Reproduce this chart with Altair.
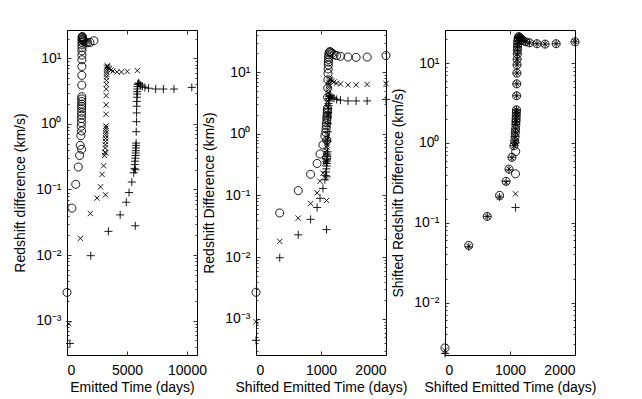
import altair as alt
import pandas as pd

# ---- data ----
# shifted emitted time (days), shared sampling of the three runs
T_SHIFT = [0, 365, 650, 840, 940, 985, 1030, 1060, 1085, 1088, 1072, 1078, 1082, 1086, 1090,
           1092, 1094, 1096, 1098, 1100, 1102, 1104, 1106, 1108, 1110, 1112, 1114, 1116, 1118,
           1120, 1125, 1135, 1150, 1170, 1200, 1240, 1300, 1415, 1540, 1710, 2000]

# emitted time (days) of each run
TE_O = [0, 409, 728, 941, 1053, 1103, 1154, 1187, 1215, 1219, 1201, 1207, 1212, 1216, 1221,
        1223, 1225, 1228, 1230, 1232, 1234, 1236, 1239, 1241, 1243, 1245, 1248, 1250, 1252,
        1254, 1260, 1271, 1288, 1310, 1344, 1389, 1456, 1585, 1725, 1915, 2240]
TE_X = [150, 1120, 1945, 2500, 2790, 2920, 3050, 3135, 3210, 3215, 3170, 3185, 3200, 3210, 3220,
        3225, 3230, 3240, 3245, 3250, 3255, 3260, 3265, 3270, 3280, 3285, 3290, 3295, 3300,
        3310, 3320, 3350, 3395, 3455, 3540, 3660, 3830, 4165, 4530, 5020, 5860]
TE_P = [250, 1980, 3450, 4430, 4940, 5170, 5400, 5560, 5690, 5700, 5620, 5650, 5670, 5690, 5710,
        5720, 5730, 5740, 5750, 5760, 5770, 5790, 5800, 5810, 5820, 5830, 5840, 5850, 5860,
        5870, 5890, 5950, 6020, 6130, 6280, 6490, 6800, 7390, 8030, 8910, 10400]

# redshift difference (km/s)
Z_O = [0.0027, 0.052, 0.12, 0.22, 0.33, 0.47, 0.66, 0.92, 0.41, 0.78, 1.05, 1.2, 1.35, 1.5, 1.7,
       1.85, 2.0, 2.2, 2.4, 2.6, 3.9, 5.5, 7.5, 9.5, 11.2, 13, 14.5, 16, 17.5,
       19, 20.5, 21.5, 21, 20, 19.2, 18.5, 18, 17.5, 17.3, 17.5, 18.5]
Z_X = [0.0009, 0.018, 0.043, 0.074, 0.11, 0.17, 0.23, 0.33, 0.083, 0.36, 0.37, 0.43, 0.48, 0.54, 0.6,
       0.66, 0.72, 0.79, 0.86, 0.93, 1.4, 1.95, 2.7, 3.4, 4.0, 4.6, 5.2, 5.7, 6.2,
       6.8, 7.3, 7.7, 7.5, 7.1, 6.9, 6.6, 6.4, 6.2, 6.2, 6.3, 6.5]
Z_P = [0.00045, 0.0098, 0.023, 0.041, 0.064, 0.09, 0.13, 0.18, 0.028, 0.2, 0.21, 0.24, 0.27, 0.3, 0.33,
       0.36, 0.39, 0.43, 0.47, 0.51, 0.76, 1.08, 1.47, 1.86, 2.2, 2.55, 2.85, 3.1, 3.4,
       3.7, 4.0, 4.2, 4.1, 3.9, 3.75, 3.6, 3.5, 3.4, 3.4, 3.4, 3.6]

# shifted redshift difference (km/s)
ZS_X = [0.0025, 0.051, 0.12, 0.21, 0.32, 0.47, 0.65, 0.92, 0.23, 1.0, 1.05, 1.2, 1.35, 1.5, 1.7,
        1.85, 2.0, 2.2, 2.4, 2.6, 3.9, 5.5, 7.5, 9.5, 11.2, 13, 14.5, 16, 17.5,
        19, 20.5, 21.5, 21, 20, 19.2, 18.5, 18, 17.5, 17.3, 17.5, 18.5]
ZS_P = [0.0023, 0.050, 0.12, 0.21, 0.33, 0.46, 0.66, 0.92, 0.155, 1.0, 1.06, 1.2, 1.36, 1.5, 1.7,
        1.85, 2.0, 2.2, 2.4, 2.6, 3.9, 5.5, 7.5, 9.5, 11.2, 13, 14.5, 16, 17.5,
        19, 20.5, 21.5, 21, 20, 19.2, 18.5, 18, 17.5, 17.3, 17.5, 18.5]

SERIES = ["o", "x", "+"]


def frame(ts, zs):
    rows = []
    for s, t_list, z_list in zip(SERIES, ts, zs):
        for t, z in zip(t_list, z_list):
            rows.append({"t": t, "z": z, "s": s})
    return pd.DataFrame(rows)


df1 = frame([TE_O, TE_X, TE_P], [Z_O, Z_X, Z_P])
df2 = frame([T_SHIFT, T_SHIFT, T_SHIFT], [Z_O, Z_X, Z_P])
df3 = frame([T_SHIFT, T_SHIFT, T_SHIFT], [Z_O, ZS_X, ZS_P])

FONT = "Liberation Sans"
SUP = {1: "¹", 0: "⁰", -1: "⁻¹", -2: "⁻²", -3: "⁻³"}
E = "round(log(datum.value)/LN10)"
label_expr = "'10' + (" + " : ".join(
    [f"{E} == {k} ? '{v}'" for k, v in SUP.items()]) + " : '')"

shape_scale = alt.Scale(domain=SERIES,
                        range=["M-0.95,0A0.95,0.95 0 1,1 0.95,0A0.95,0.95 0 1,1 -0.95,0Z",
                               "M-0.62,-0.62L0.62,0.62M-0.62,0.62L0.62,-0.62",
                               "M-0.95,0L0.95,0M0,-0.95L0,0.95"])


def panel(df, xdom, xvals, ydom, decades, xtitle, ytitle):
    minors = [m * 10.0 ** d for d in range(decades[0] - 1, decades[-1] + 1)
              for m in range(2, 10)
              if ydom[0] <= m * 10.0 ** d <= ydom[1]]
    xs = alt.Scale(domain=xdom, nice=False, zero=False)
    ys = alt.Scale(type="log", domain=ydom, nice=False)
    majors = [10.0 ** d for d in decades]

    def axes(xaxis, yaxis, opacity):
        return alt.Chart(df).mark_point(filled=False, color="black", strokeWidth=0.9,
                                        size=72, opacity=opacity, clip=False).encode(
            x=alt.X("t:Q", scale=xs, axis=xaxis),
            y=alt.Y("z:Q", scale=ys, axis=yaxis),
            shape=alt.Shape("s:N", scale=shape_scale, legend=None),
        )

    main = axes(
        alt.Axis(values=xvals, title=xtitle, format="d", domain=False, tickSize={"expr": "-4"},
                 labelPadding=12, titlePadding=3),
        alt.Axis(values=majors, title=ytitle, labelExpr=label_expr, domain=False,
                 tickSize={"expr": "-4"}, labelPadding=10, titlePadding=8),
        1,
    )
    mirror = axes(
        alt.Axis(values=xvals, orient="top", labels=False, title=None, domain=False,
                 tickSize={"expr": "-4"}),
        alt.Axis(values=majors, orient="right", labels=False, title=None, domain=False,
                 tickSize={"expr": "-4"}),
        0,
    )
    minor_l = axes(
        alt.Axis(values=xvals, labels=False, title=None, domain=False, ticks=False),
        alt.Axis(values=minors, orient="left", labels=False, title=None, domain=False,
                 tickSize={"expr": "-2"}),
        0,
    )
    minor_r = axes(
        alt.Axis(values=xvals, orient="top", labels=False, title=None, domain=False, ticks=False),
        alt.Axis(values=minors, orient="right", labels=False, title=None, domain=False,
                 tickSize={"expr": "-2"}),
        0,
    )
    return alt.layer(main, mirror, minor_l, minor_r).resolve_axis(
        x="independent", y="independent").properties(width=130, height=325)


p1 = panel(df1, [0, 10833], [0, 5000, 10000], [3e-4, 27], [-3, -2, -1, 0, 1],
           "Emitted Time (days)", "Redshift difference (km/s)")
p2 = panel(df2, [0, 2000], [0, 1000, 2000], [2.6e-4, 48], [-3, -2, -1, 0, 1],
           "Shifted Emitted Time (days)", "Redshift Difference (km/s)")
p3 = panel(df3, [0, 2000], [0, 1000, 2000], [2.2e-3, 26], [-2, -1, 0, 1],
           "Shifted Emitted Time (days)", "Shifted Redshift Difference (km/s)")

chart = alt.hconcat(p1, p2, p3, spacing=59, bounds="flush").properties(
    padding={"top": 21, "left": 5, "right": 5, "bottom": 5}
).configure_view(stroke="black", strokeWidth=1).configure_axis(
    labelFont=FONT, titleFont=FONT, labelFontSize=14, titleFontSize=14,
    titleFontWeight="normal", labelColor="black", titleColor="black",
    tickColor="black", tickWidth=0.8, grid=False,
)

chart.save("out.html", embed_options={"renderer": "svg", "actions": False})
